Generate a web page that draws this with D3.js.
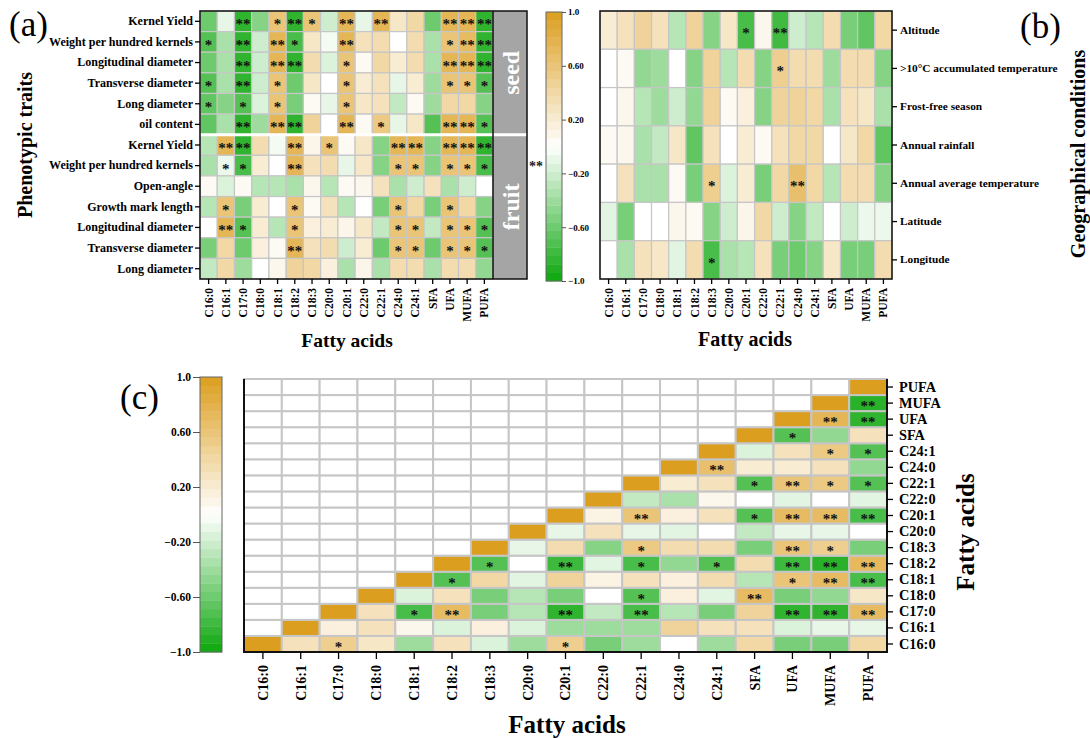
<!DOCTYPE html>
<html>
<head>
<meta charset="utf-8">
<script src="https://cdn.jsdelivr.net/npm/d3@7/dist/d3.min.js"></script>
<style>
  body { margin: 0; background: #fff; }
  svg text { font-family: "Liberation Serif", "Times New Roman", serif; }
</style>
</head>
<body>
<svg width="1090" height="738"></svg>
<script>
(function() {
  // Data

  var fattyAcids = ["C16:0", "C16:1", "C17:0", "C18:0", "C18:1", "C18:2", "C18:3", "C20:0", "C20:1",
    "C22:0", "C22:1", "C24:0", "C24:1", "SFA", "UFA", "MUFA", "PUFA"];

  var seedTraits = ["Kernel Yield", "Weight per hundred kernels", "Longitudinal diameter",
    "Transverse diameter", "Long diameter", "oil content"];
  var fruitTraits = ["Kernel Yield", "Weight per hundred kernels", "Open-angle", "Growth mark length",
    "Longitudinal diameter", "Transverse diameter", "Long diameter"];

  var seedValues = [
    [-0.6, -0.1, -0.85, -0.5, 0.6, -0.85, 0.6, -0.2, 0.75, -0.1, 0.75, 0.25, 0.4, -0.6, 0.75, 0.75, -0.85],
    [-0.7, -0.35, -0.85, -0.2, 0.75, -0.75, 0.25, -0.05, 0.75, 0.3, 0.35, 0, 0.35, -0.35, 0.6, 0.7, -0.85],
    [-0.6, -0.35, -0.85, -0.2, 0.75, -0.85, 0.35, -0.15, 0.6, 0.05, 0.4, 0.2, 0.35, -0.35, 0.75, 0.75, -0.85],
    [-0.7, -0.35, -0.85, -0.2, 0.6, -0.6, 0.25, 0, 0.6, 0.2, 0.3, -0.1, 0.2, -0.4, 0.6, 0.6, -0.7],
    [-0.65, -0.5, -0.7, -0.15, 0.6, -0.55, 0.05, -0.1, 0.6, 0.25, 0.3, -0.25, 0.05, -0.4, 0.4, 0.4, -0.5],
    [-0.65, -0.35, -0.85, -0.4, 0.75, -0.85, 0.45, 0, 0.75, 0.05, 0.55, -0.1, 0.25, -0.7, 0.75, 0.75, -0.7]
  ];
  // 1 = *, 2 = **
  var seedStars = ["00201210202000222", "10202100200000122", "00202200100000222",
    "10201000100000111", "10101000100000000", "00202200201000221"];

  var fruitValues = [
    [-0.3, 0.75, -0.85, 0.35, -0.05, 0.75, 0.1, 0.6, 0.05, 0.25, -0.5, 0.75, 0.75, -0.5, 0.75, 0.75, -0.85],
    [-0.35, -0.08, -0.75, 0.2, 0, 0.75, 0.3, 0.35, -0.1, 0.25, -0.5, 0.6, 0.6, -0.5, 0.6, 0.6, -0.75],
    [0.05, -0.15, 0.05, -0.3, -0.3, -0.35, 0.08, -0.3, 0.05, 0.08, 0.3, -0.35, -0.2, 0.3, -0.35, -0.2, 0],
    [-0.3, 0.6, -0.55, 0.2, 0, 0.6, 0.05, 0.3, -0.3, 0, -0.55, 0.6, 0.4, -0.55, 0.6, 0.4, -0.5],
    [0, 0.75, -0.7, 0.2, -0.3, 0.6, 0.15, 0.2, 0.1, 0.25, -0.25, 0.6, 0.6, -0.25, 0.6, 0.6, -0.7],
    [-0.55, 0.4, -0.6, 0.15, 0.05, 0.75, 0.3, 0.35, -0.2, 0.2, -0.6, 0.6, 0.6, -0.6, 0.6, 0.6, -0.7],
    [-0.25, 0.4, -0.4, 0, 0.08, 0.45, 0.4, 0.15, -0.35, 0.1, -0.35, 0.35, 0.35, -0.35, 0.35, 0.35, -0.45]
  ];
  var fruitStars = ["02200201000220222", "01100200000110111", "00000000000000000",
    "01000100000100100", "02100100000110111", "00000200000110111", "00000000000000000"];

  var geoConditions = ["Altitude", ">10°C accumulated temperature", "Frost-free season", "Annual rainfall",
    "Annual average temperature", "Latitude", "Longitude"];
  var geoValues = [
    [0.2, 0.3, 0.45, 0.3, -0.3, 0.45, -0.5, 0.25, -0.75, 0.08, -0.78, -0.2, -0.3, 0.35, -0.55, -0.65, 0.4],
    [0, 0.05, -0.45, -0.4, 0, -0.5, 0.45, -0.3, 0.35, -0.5, 0.5, 0.35, 0.35, -0.4, 0.35, 0.35, -0.5],
    [0, 0.08, -0.3, -0.4, -0.2, -0.45, 0.45, 0.05, 0.15, -0.5, 0.45, 0.45, 0.4, -0.35, 0.3, 0.25, -0.35],
    [0.05, 0.08, -0.35, -0.25, 0.25, -0.65, 0.3, 0, 0.2, 0.05, 0.3, 0.4, 0.4, 0, 0.25, 0.4, -0.65],
    [0, 0.3, -0.35, -0.35, 0.05, -0.55, 0.5, -0.15, 0.2, -0.55, 0.4, 0.65, 0.4, -0.3, 0.35, 0.35, -0.5],
    [-0.12, -0.55, 0, 0, 0.08, 0.05, -0.5, -0.2, 0.1, 0.4, -0.2, -0.5, -0.25, 0, -0.2, -0.08, -0.08],
    [0, -0.35, 0.3, 0.25, -0.12, 0.35, -0.75, -0.35, -0.3, 0.3, -0.55, -0.6, -0.5, 0.25, -0.55, -0.55, 0.35]
  ];
  var geoStars = ["00000000102000000", "00000000001000000", "00000000000000000", "00000000000000000",
    "00000010000200000", "00000000000000000", "00000010000000000"];

  // fatty acid correlations, one row per acid starting at the diagonal
  var faValues = [
    [1, 0.3, 0.5, 0.25, -0.4, 0.3, -0.15, -0.4, 0.5, -0.55, -0.4, 0, -0.4, 0.4, -0.55, -0.55, 0.4],
    [1, 0.15, 0.3, 0.08, -0.15, 0.15, -0.15, -0.4, -0.4, -0.4, 0.45, 0.3, 0.3, -0.15, -0.1, -0.1],
    [1, 0.3, -0.75, 0.7, -0.55, -0.3, -0.85, -0.25, -0.75, -0.3, -0.55, 0.45, -0.85, -0.85, 0.7],
    [1, -0.15, 0.3, -0.55, -0.3, -0.55, 0, -0.7, 0.15, -0.12, 0.7, -0.55, -0.45, 0.25],
    [1, -0.7, 0.4, -0.12, 0.45, 0.12, 0.3, 0.15, 0.35, -0.3, 0.6, 0.7, -0.75],
    [1, -0.7, 0, -0.8, -0.12, -0.75, -0.45, -0.7, 0.35, -0.8, -0.88, 0.72],
    [1, -0.1, 0.35, -0.5, 0.55, 0.35, 0.35, -0.55, 0.6, 0.5, -0.55],
    [1, -0.1, 0.3, -0.1, -0.12, 0, -0.25, -0.1, -0.1, 0],
    [1, 0.12, 0.6, 0.15, 0.3, -0.7, 0.7, 0.7, -0.75],
    [1, -0.25, -0.35, 0.08, 0, -0.12, 0, -0.12],
    [1, 0.2, 0.3, -0.7, 0.6, 0.55, -0.7],
    [1, 0.65, 0.2, 0.2, 0.3, -0.45],
    [1, -0.15, 0.3, 0.55, -0.7],
    [1, -0.7, -0.45, 0.3],
    [1, 0.75, -0.85],
    [1, -0.88],
    [1]
  ];
  var faStars = ["00100000100000000", "0000000000000000", "001200202000222", "00000001002000",
    "0100000000122", "010201010222", "00001000210", "0000000000", "002001222", "00000000",
    "0001211", "020000", "00011", "0100", "022", "02", "0"];

  var scaleTicks = [1, 0.6, 0.2, -0.2, -0.6, -1];
  var scaleTickLabels = ["1.0", "0.60", "0.20", "\u22120.20", "\u22120.60", "\u22121.0"];

  var svg = d3.select("svg");
  var serif = '"Liberation Serif", "Times New Roman", serif';

  var color = d3.scaleLinear()
      .domain([-1, 0, 1])
      .range(["#0ca70c", "#ffffff", "#dc9e1e"]);

  function starText(code, i) {
    var c = code.charAt(i);
    return c === "2" ? "**" : (c === "1" ? "*" : "");
  }

  function drawCells(g, cells, x, y, sw) {
    g.selectAll("rect.cell")
      .data(cells)
      .enter().append("rect")
        .attr("class", "cell")
        .attr("x", function(d) { return x(d.col); })
        .attr("y", function(d) { return y(d.row); })
        .attr("width", x.bandwidth())
        .attr("height", y.bandwidth())
        .attr("fill", function(d) { return d.value == null ? "#fff" : color(d.value); })
        .attr("stroke", "#c6c6c6")
        .attr("stroke-width", sw);

    g.selectAll("text.star")
      .data(cells.filter(function(d) { return d.star; }))
      .enter().append("text")
        .attr("class", "star")
        .attr("x", function(d) { return x(d.col) + x.bandwidth() / 2; })
        .attr("y", function(d) { return y(d.row) + y.bandwidth() / 2 + 8; })
        .attr("text-anchor", "middle")
        .attr("font-size", 15)
        .attr("font-weight", "bold")
        .attr("fill", "#111")
        .text(function(d) { return d.star; });
  }

  function styleAxis(g, fs) {
    g.select(".domain").remove();
    g.selectAll("line").attr("stroke", "#000").attr("stroke-width", 1.3);
    g.selectAll("text")
      .attr("font-family", serif)
      .attr("font-weight", "bold")
      .attr("font-size", fs)
      .attr("fill", "#000");
  }

  function rotateLabels(g, off) {
    g.selectAll("text")
      .attr("transform", "rotate(-90)")
      .attr("x", -off)
      .attr("y", 0)
      .attr("dy", "0.35em")
      .style("text-anchor", "end");
  }

  function colorBar(x0, y0, w, h, side, fs, tick) {
    var yb = d3.scaleLinear().domain([-1, 1]).range([y0 + h, y0]);
    var n = 32;
    var steps = d3.range(n).map(function(i) { return -1 + (i + 0.5) * 2 / n; });
    var g = svg.append("g");
    g.selectAll("rect.band")
      .data(steps)
      .enter().append("rect")
        .attr("class", "band")
        .attr("x", x0)
        .attr("width", w)
        .attr("y", function(d) { return yb(d + 1 / n); })
        .attr("height", h / n + 0.4)
        .attr("fill", function(d) { return color(d); });
    g.append("rect")
        .attr("x", x0).attr("y", y0).attr("width", w).attr("height", h)
        .attr("fill", "none").attr("stroke", "#666").attr("stroke-width", 1);
    var axis = side === "right" ? d3.axisRight(yb) : d3.axisLeft(yb);
    var ga = g.append("g")
        .attr("transform", "translate(" + (side === "right" ? x0 + w : x0) + ",0)")
        .call(axis.tickValues(scaleTicks).tickSize(tick).tickPadding(2)
          .tickFormat(function(d, i) { return scaleTickLabels[i]; }));
    styleAxis(ga, fs);
    ga.selectAll("line").attr("stroke", "#555").attr("stroke-width", 1);
  }

  function title(x, y, txt, fs, rot) {
    svg.append("text")
        .attr("transform", "translate(" + x + "," + y + ")" + (rot ? " rotate(-90)" : ""))
        .attr("text-anchor", "middle")
        .attr("font-size", fs)
        .attr("font-weight", "bold")
        .attr("fill", "#000")
        .text(txt);
  }

  function panelTag(x, y, txt) {
    svg.append("text")
        .attr("x", x).attr("y", y)
        .attr("font-size", 35)
        .attr("fill", "#000")
        .text(txt);
  }

  // ---------- (a) phenotypic traits vs fatty acids ----------
  var aKeys = seedTraits.map(function(d, i) { return "seed" + i; })
    .concat(fruitTraits.map(function(d, i) { return "fruit" + i; }));
  var aLabels = seedTraits.concat(fruitTraits);
  var aValues = seedValues.concat(fruitValues);
  var aStars = seedStars.concat(fruitStars);

  var xA = d3.scaleBand().domain(fattyAcids).range([200, 493]);
  var yA = d3.scaleBand().domain(aKeys).range([11, 279]);

  var cellsA = [];
  aKeys.forEach(function(k, r) {
    fattyAcids.forEach(function(fa, c) {
      cellsA.push({ row: k, col: fa, value: aValues[r][c], star: starText(aStars[r], c) });
    });
  });

  var gA = svg.append("g");
  drawCells(gA, cellsA, xA, yA, 1.2);

  gA.append("rect")
      .attr("x", 493).attr("y", 11).attr("width", 34).attr("height", 268)
      .attr("fill", "#a5a5a5");
  gA.append("line")
      .attr("x1", 200).attr("x2", 527)
      .attr("y1", yA("fruit0")).attr("y2", yA("fruit0"))
      .attr("stroke", "#fff").attr("stroke-width", 3);
  gA.append("rect")
      .attr("x", 200).attr("y", 11).attr("width", 327).attr("height", 268)
      .attr("fill", "none").attr("stroke", "#111").attr("stroke-width", 1.5);
  gA.append("line")
      .attr("x1", 493).attr("x2", 493).attr("y1", 11).attr("y2", 279)
      .attr("stroke", "#111").attr("stroke-width", 1.5);

  [["seed", yA("seed0"), yA("seed5") + yA.bandwidth()], ["fruit", yA("fruit0"), yA("fruit6") + yA.bandwidth()]]
    .forEach(function(s) {
      gA.append("text")
          .attr("transform", "translate(519," + ((s[1] + s[2]) / 2) + ") rotate(-90)")
          .attr("text-anchor", "middle")
          .attr("font-size", 24)
          .attr("font-weight", "bold")
          .attr("fill", "#fff")
          .text(s[0]);
    });

  var axA = svg.append("g")
      .attr("transform", "translate(200,0)")
      .call(d3.axisLeft(yA).tickSize(5).tickPadding(2)
        .tickFormat(function(d, i) { return aLabels[i]; }));
  styleAxis(axA, 12);

  var axAx = svg.append("g")
      .attr("transform", "translate(0,279)")
      .call(d3.axisBottom(xA).tickSize(5));
  styleAxis(axAx, 11.5);
  rotateLabels(axAx, 9);

  colorBar(546, 12, 16, 269, "right", 9, 4);

  svg.append("text")
      .attr("x", 529).attr("y", 171)
      .attr("font-size", 14).attr("font-weight", "bold").attr("fill", "#222")
      .text("**");

  title(347, 347, "Fatty acids", 19.5, false);
  title(31.5, 145, "Phenotypic traits", 20, true);
  panelTag(9, 36, "(a)");

  // ---------- (b) geographical conditions vs fatty acids ----------
  var xB = d3.scaleBand().domain(fattyAcids).range([600, 892]);
  var yB = d3.scaleBand().domain(geoConditions).range([11, 279]);

  var cellsB = [];
  geoConditions.forEach(function(k, r) {
    fattyAcids.forEach(function(fa, c) {
      cellsB.push({ row: k, col: fa, value: geoValues[r][c], star: starText(geoStars[r], c) });
    });
  });

  var gB = svg.append("g");
  drawCells(gB, cellsB, xB, yB, 1.2);
  gB.append("rect")
      .attr("x", 600).attr("y", 11).attr("width", 292).attr("height", 268)
      .attr("fill", "none").attr("stroke", "#111").attr("stroke-width", 1.5);

  var axB = svg.append("g")
      .attr("transform", "translate(892,0)")
      .call(d3.axisRight(yB).tickSize(5).tickPadding(3));
  styleAxis(axB, 11.3);

  var axBx = svg.append("g")
      .attr("transform", "translate(0,279)")
      .call(d3.axisBottom(xB).tickSize(5));
  styleAxis(axBx, 11.5);
  rotateLabels(axBx, 9);

  title(745, 346, "Fatty acids", 20, false);
  title(1085, 154, "Geographical conditions", 20, true);
  panelTag(1020, 38, "(b)");

  // ---------- (c) fatty acid correlation matrix ----------
  var xC = d3.scaleBand().domain(fattyAcids).range([244, 887]);
  var yC = d3.scaleBand().domain(fattyAcids.slice().reverse()).range([379, 652]);

  var cellsC = [];
  fattyAcids.forEach(function(rowFa, r) {
    fattyAcids.forEach(function(colFa, c) {
      var has = c >= r;
      cellsC.push({
        row: rowFa, col: colFa,
        value: has ? faValues[r][c - r] : null,
        star: has ? starText(faStars[r], c - r) : ""
      });
    });
  });

  var gC = svg.append("g");
  drawCells(gC, cellsC, xC, yC, 2);
  gC.append("path")
      .attr("d", "M244,379V652H887V379")
      .attr("fill", "none").attr("stroke", "#111").attr("stroke-width", 2);

  var axC = svg.append("g")
      .attr("transform", "translate(887,0)")
      .call(d3.axisRight(yC).tickSize(6).tickPadding(6));
  styleAxis(axC, 14.3);

  var axCx = svg.append("g")
      .attr("transform", "translate(0,652)")
      .call(d3.axisBottom(xC).tickSize(7));
  styleAxis(axCx, 14);
  rotateLabels(axCx, 13);

  colorBar(200, 377, 22, 275, "left", 11.5, 7);

  title(567, 733, "Fatty acids", 25, false);
  title(974, 532, "Fatty acids", 25, true);
  panelTag(120, 409, "(c)");
})();
</script>
</body>
</html>
